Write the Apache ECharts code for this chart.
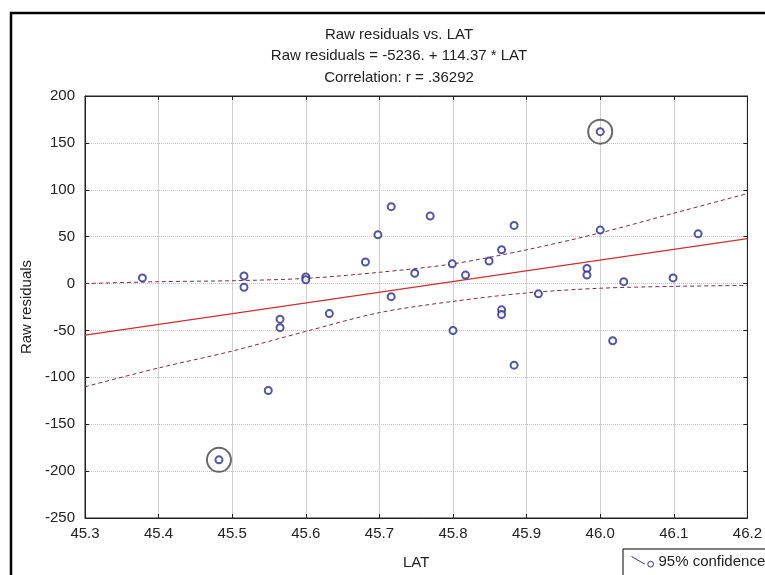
<!DOCTYPE html>
<html>
<head>
<meta charset="utf-8">
<script src="https://cdn.jsdelivr.net/npm/echarts@6/dist/echarts.min.js"></script>
<style>
    body { margin: 0; background: #fff; }
    #chart01 { width: 765px; height: 575px; }
</style>
</head>
<body>
<div id="chart01"></div>
<script>
// 原始数据：LAT 与残差
var latValues = [45.378, 45.516, 45.516, 45.600, 45.600, 45.565, 45.565, 45.549, 45.482, 45.632,
    45.681, 45.698, 45.716, 45.716, 45.748, 45.769, 45.799, 45.800, 45.817, 45.849,
    45.866, 45.866, 45.866, 45.883, 45.883, 45.916, 45.982, 45.982, 46.000, 46.000,
    46.017, 46.032, 46.099, 46.133];
var residValues = [6, 8, -4, 7, 4, -38, -47, -114, -188, -32,
    23, 52, 82, -14, 11, 72, 21, -50, 9, 24,
    36, -28, -33, 62, -87, -11, 16, 9, 162, 57,
    -61, 2, 6, 53];
// 圈出来的两个离群点
var outlierLat = [45.482, 46.000];
var outlierResid = [-188, 162];
// 回归直线
var fitX = [45.3, 46.2];
var fitY = [-55, 48];
// 95% 置信带
var bandX = [45.3, 45.4, 45.5, 45.6, 45.7, 45.8, 45.9, 46.0, 46.1, 46.2];
var upperY = [0, 2, 3, 5.5, 12, 21, 36, 54, 75, 96];
var lowerY = [-110, -90, -72, -51, -31, -19, -10, -5, -3, -2];
// 坐标轴刻度
var xTicks = ['45.3', '45.4', '45.5', '45.6', '45.7', '45.8', '45.9', '46.0', '46.1', '46.2'];
var yTicks = [-250, -200, -150, -100, -50, 0, 50, 100, 150, 200];

function pairs(xs, ys) {
    var arr = [];
    for (let i = 0; i < xs.length; i++) {
        arr.push([xs[i], ys[i]]);
    }
    return arr;
}

chart01();

function chart01() {
    var chartDom = document.getElementById('chart01');
    var myChart = echarts.init(chartDom);
    var option;
    var font = "'Liberation Sans', Arial, sans-serif";
    var bandStyle = { color: '#7a2a4a', width: 1, type: [4, 3] };
    option = {
        animation: false,
        textStyle: { fontFamily: font },
        title: {
            text: 'Raw residuals vs. LAT\nRaw residuals = -5236. + 114.37 * LAT\nCorrelation: r = .36292',
            left: 394,
            top: 19,
            textAlign: 'center',
            textStyle: { fontSize: 15, fontWeight: 'normal', color: '#222', lineHeight: 21.5, fontFamily: font }
        },
        graphic: [
            {
                type: 'rect',
                shape: { x: 11, y: 13, width: 800, height: 620 },
                style: { fill: 'none', stroke: '#000', lineWidth: 2.5 },
                silent: true
            }
        ],
        legend: {
            left: 623,
            top: 549,
            padding: [5, 30, 12, 6],
            borderColor: '#000',
            borderWidth: 1,
            backgroundColor: '#fff',
            itemWidth: 22,
            itemHeight: 12,
            itemGap: 4,
            data: [{
                name: '95% confidence',
                icon: 'path://M0,0 L14,8 M17,8 A3,3 0 1,1 17,8.01 Z',
                itemStyle: { color: 'none', borderColor: '#333399', borderWidth: 1 }
            }],
            textStyle: { fontSize: 15, color: '#222', fontFamily: font }
        },
        grid: {
            left: 85,
            right: 15,
            top: 96,
            bottom: 53,
            show: true,
            borderColor: '#222',
            borderWidth: 1
        },
        xAxis: [
            {
                type: 'value',
                min: 45.3,
                max: 46.2,
                interval: 0.1,
                name: 'LAT',
                nameLocation: 'middle',
                nameGap: 37,
                nameTextStyle: { fontSize: 15, color: '#222' },
                axisLine: { onZero: false, lineStyle: { color: '#222' } },
                axisTick: { inside: true, length: 4, lineStyle: { color: '#222' } },
                axisLabel: {
                    fontSize: 15,
                    color: '#222',
                    margin: 8,
                    formatter: function (v) {
                        var k = Math.round((v - 45.3) * 10);
                        return xTicks[k] || '';
                    }
                },
                splitLine: { show: true, lineStyle: { color: '#cfcfcf', width: 1 } }
            },
            {
                type: 'value',
                position: 'top',
                min: 45.3,
                max: 46.2,
                interval: 0.1,
                axisLine: { onZero: false, lineStyle: { color: '#222' } },
                axisTick: { inside: true, length: 4, lineStyle: { color: '#222' } },
                axisLabel: { show: false },
                splitLine: { show: false }
            }
        ],
        yAxis: [
            {
                type: 'value',
                min: yTicks[0],
                max: yTicks[yTicks.length - 1],
                interval: 50,
                name: 'Raw residuals',
                nameLocation: 'middle',
                nameGap: 50,
                nameTextStyle: { fontSize: 15, color: '#222' },
                axisLine: { show: true, onZero: false, lineStyle: { color: '#222' } },
                axisTick: { show: true, inside: true, length: 4, lineStyle: { color: '#222' } },
                axisLabel: { fontSize: 15, color: '#222', margin: 10 },
                splitLine: { show: true, lineStyle: { color: '#c4c4c4', width: 1, type: [1, 1] } }
            },
            {
                type: 'value',
                position: 'right',
                min: yTicks[0],
                max: yTicks[yTicks.length - 1],
                interval: 50,
                axisLine: { show: true, onZero: false, lineStyle: { color: '#222' } },
                axisTick: { show: true, inside: true, length: 4, lineStyle: { color: '#222' } },
                axisLabel: { show: false },
                splitLine: { show: false }
            }
        ],
        series: [
            {
                name: '95% confidence',
                type: 'line',
                data: pairs(bandX, upperY),
                showSymbol: false,
                smooth: 0.3,
                lineStyle: bandStyle,
                itemStyle: { color: '#333399' },
                silent: true,
                z: 3
            },
            {
                name: 'lower',
                type: 'line',
                data: pairs(bandX, lowerY),
                showSymbol: false,
                smooth: 0.3,
                lineStyle: bandStyle,
                silent: true,
                z: 3
            },
            {
                name: 'fit',
                type: 'line',
                data: pairs(fitX, fitY),
                showSymbol: false,
                lineStyle: { color: '#c83232', width: 1.2 },
                silent: true,
                z: 4
            },
            {
                name: 'outliers',
                type: 'scatter',
                data: pairs(outlierLat, outlierResid),
                symbol: 'circle',
                symbolSize: 24,
                itemStyle: { color: 'rgba(0,0,0,0)', borderColor: '#444', borderWidth: 2 },
                silent: true,
                z: 4
            },
            {
                name: 'residuals',
                type: 'scatter',
                data: pairs(latValues, residValues),
                symbol: 'emptyCircle',
                symbolSize: 7,
                itemStyle: { color: '#2a2a88', borderColor: '#2a2a88', borderWidth: 1.2 },
                z: 5
            }
        ]
    };

    option && myChart.setOption(option);
}
</script>
</body>
</html>
